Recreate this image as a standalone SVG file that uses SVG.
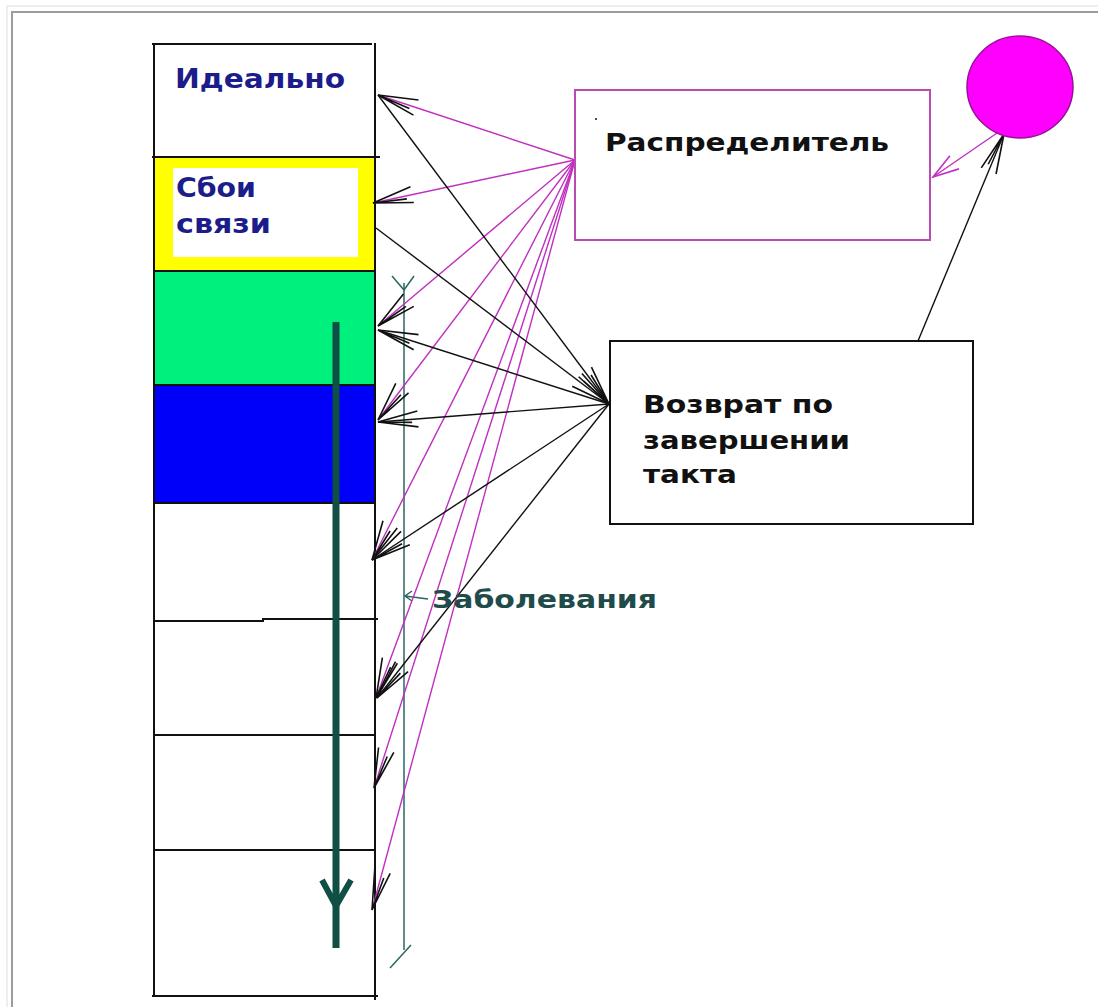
<svg xmlns="http://www.w3.org/2000/svg" width="1098" height="1007" viewBox="0 0 1098 1007">
<style>
.t{font-family:"DejaVu Sans","Liberation Sans",sans-serif;font-weight:bold}
.navy{fill:#1c1c8a}
.blk{fill:#111}
.row{stroke:#111;stroke-width:2}
.mg{stroke:#c030c0;stroke-width:1.4;fill:none}
.bk{stroke:#111;stroke-width:1.4;fill:none}
</style>
<defs>
<marker id="ab" markerUnits="userSpaceOnUse" markerWidth="44" markerHeight="26" viewBox="0 -13 44 26" refX="42" refY="0" orient="auto">
<path d="M2,-8 L42,0 L2,8 M8,-3 L42,0" fill="none" stroke="#111" stroke-width="1.6"/>
</marker>
<marker id="am" markerUnits="userSpaceOnUse" markerWidth="30" markerHeight="24" viewBox="0 -12 30 24" refX="28" refY="0" orient="auto">
<path d="M2,-8 L28,0 L2,8" fill="none" stroke="#c030c0" stroke-width="1.6"/>
</marker>
</defs>
<rect width="1098" height="1007" fill="#fff"/>
<path d="M7,1007 V6 H1098" fill="none" stroke="#eeeeee" stroke-width="2"/>
<path d="M12,1007 V12 H1098" fill="none" stroke="#9c9c9c" stroke-width="2"/>

<g id="column">
<g id="row-ideal">
<rect x="154" y="44" width="221" height="113" fill="#fff"/>
<text class="t navy" x="175" y="88" font-size="26" textLength="170" lengthAdjust="spacingAndGlyphs">Идеально</text>
</g>
<g id="row-sboi">
<rect x="154" y="157" width="221" height="114" fill="#ffff00"/>
<rect x="173" y="168" width="185" height="89" fill="#fff"/>
<text class="t navy" x="176" y="197" font-size="26" textLength="80" lengthAdjust="spacingAndGlyphs">Сбои</text>
<text class="t navy" x="176" y="233" font-size="26" textLength="95" lengthAdjust="spacingAndGlyphs">связи</text>
</g>
<g id="row-green"><rect x="154" y="271" width="221" height="114" fill="#00f07e"/></g>
<g id="row-blue"><rect x="154" y="385" width="221" height="118" fill="#0000fa"/></g>
<g id="row-5"><rect x="154" y="503" width="221" height="117" fill="#fff"/></g>
<g id="row-6"><rect x="154" y="620" width="221" height="115" fill="#fff"/></g>
<g id="row-7"><rect x="154" y="735" width="221" height="115" fill="#fff"/></g>
<g id="row-8"><rect x="154" y="850" width="221" height="146" fill="#fff"/></g>
<path class="row" fill="none" d="M154,44 V997 M375,43 V1000 M152,44 H372 M152,157 H380 M154,271 H376 M154,385 H376 M154,503 H376 M154,621 H263 V619 H378 M154,735 H376 M154,850 H376 M152,996 H378"/>
</g>

<g id="flow-arrow">
<path d="M336,322 V948" stroke="#0f4f44" stroke-width="7" fill="none"/>
<path d="M322,880 L336,906 L351,880" stroke="#0f4f44" stroke-width="6" fill="none" stroke-linejoin="round"/>
</g>

<g id="bracket" fill="none" stroke="#2a6660" stroke-width="1.5">
<path d="M404,283 V950"/>
<path d="M392,276 L404,290 L414,276"/>
<path d="M390,968 L411,945"/>
<path d="M412,591 L405,596 L412,601 M405,596 L428,599"/>
</g>

<g id="connectors">
<line class="mg" x1="575" y1="160" x2="378" y2="95" marker-end="url(#ab)"/>
<line class="mg" x1="575" y1="160" x2="373" y2="203" marker-end="url(#ab)"/>
<line class="mg" x1="575" y1="160" x2="378" y2="326" marker-end="url(#ab)"/>
<line class="mg" x1="575" y1="160" x2="378" y2="420" marker-end="url(#ab)"/>
<line class="mg" x1="575" y1="160" x2="372" y2="560" marker-end="url(#ab)"/>
<line class="mg" x1="575" y1="160" x2="376" y2="698" marker-end="url(#ab)"/>
<line class="mg" x1="575" y1="160" x2="374" y2="788" marker-end="url(#ab)"/>
<line class="mg" x1="575" y1="160" x2="372" y2="910" marker-end="url(#ab)"/>
<line class="bk" x1="378" y1="95" x2="609" y2="404" marker-end="url(#ab)"/>
<line class="bk" x1="376" y1="228" x2="609" y2="404" marker-end="url(#ab)"/>
<line class="bk" x1="609" y1="404" x2="378" y2="330" marker-end="url(#ab)"/>
<line class="bk" x1="609" y1="404" x2="378" y2="422" marker-end="url(#ab)"/>
<line class="bk" x1="609" y1="404" x2="372" y2="560" marker-end="url(#ab)"/>
<line class="bk" x1="609" y1="404" x2="377" y2="698" marker-end="url(#ab)"/>
<line class="bk" x1="918" y1="341" x2="1004" y2="134" marker-end="url(#ab)"/>
<line class="mg" x1="1000" y1="131" x2="933" y2="177" marker-end="url(#am)"/>
</g>

<g id="distributor">
<rect x="575" y="90" width="355" height="150" fill="#fff" stroke="#b94cb0" stroke-width="2"/>
<circle cx="596" cy="119" r="1" fill="#111"/>
<text class="t blk" x="605" y="151" font-size="24" textLength="284" lengthAdjust="spacingAndGlyphs">Распределитель</text>
</g>

<g id="return">
<rect x="610" y="341" width="363" height="183" fill="#fff" stroke="#111" stroke-width="2"/>
<text class="t blk" x="643" y="413" font-size="25" textLength="190" lengthAdjust="spacingAndGlyphs">Возврат по</text>
<text class="t blk" x="643" y="449" font-size="25" textLength="207" lengthAdjust="spacingAndGlyphs">завершении</text>
<text class="t blk" x="643" y="483" font-size="25" textLength="94" lengthAdjust="spacingAndGlyphs">такта</text>
</g>

<g id="source">
<ellipse cx="1020" cy="87" rx="53" ry="51" fill="#ff00ff" stroke="#9a109a" stroke-width="1.5"/>
</g>

<g id="label-zabol">
<text class="t" fill="#1f4c4a" x="432" y="608" font-size="24" textLength="225" lengthAdjust="spacingAndGlyphs">Заболевания</text>
</g>
</svg>
